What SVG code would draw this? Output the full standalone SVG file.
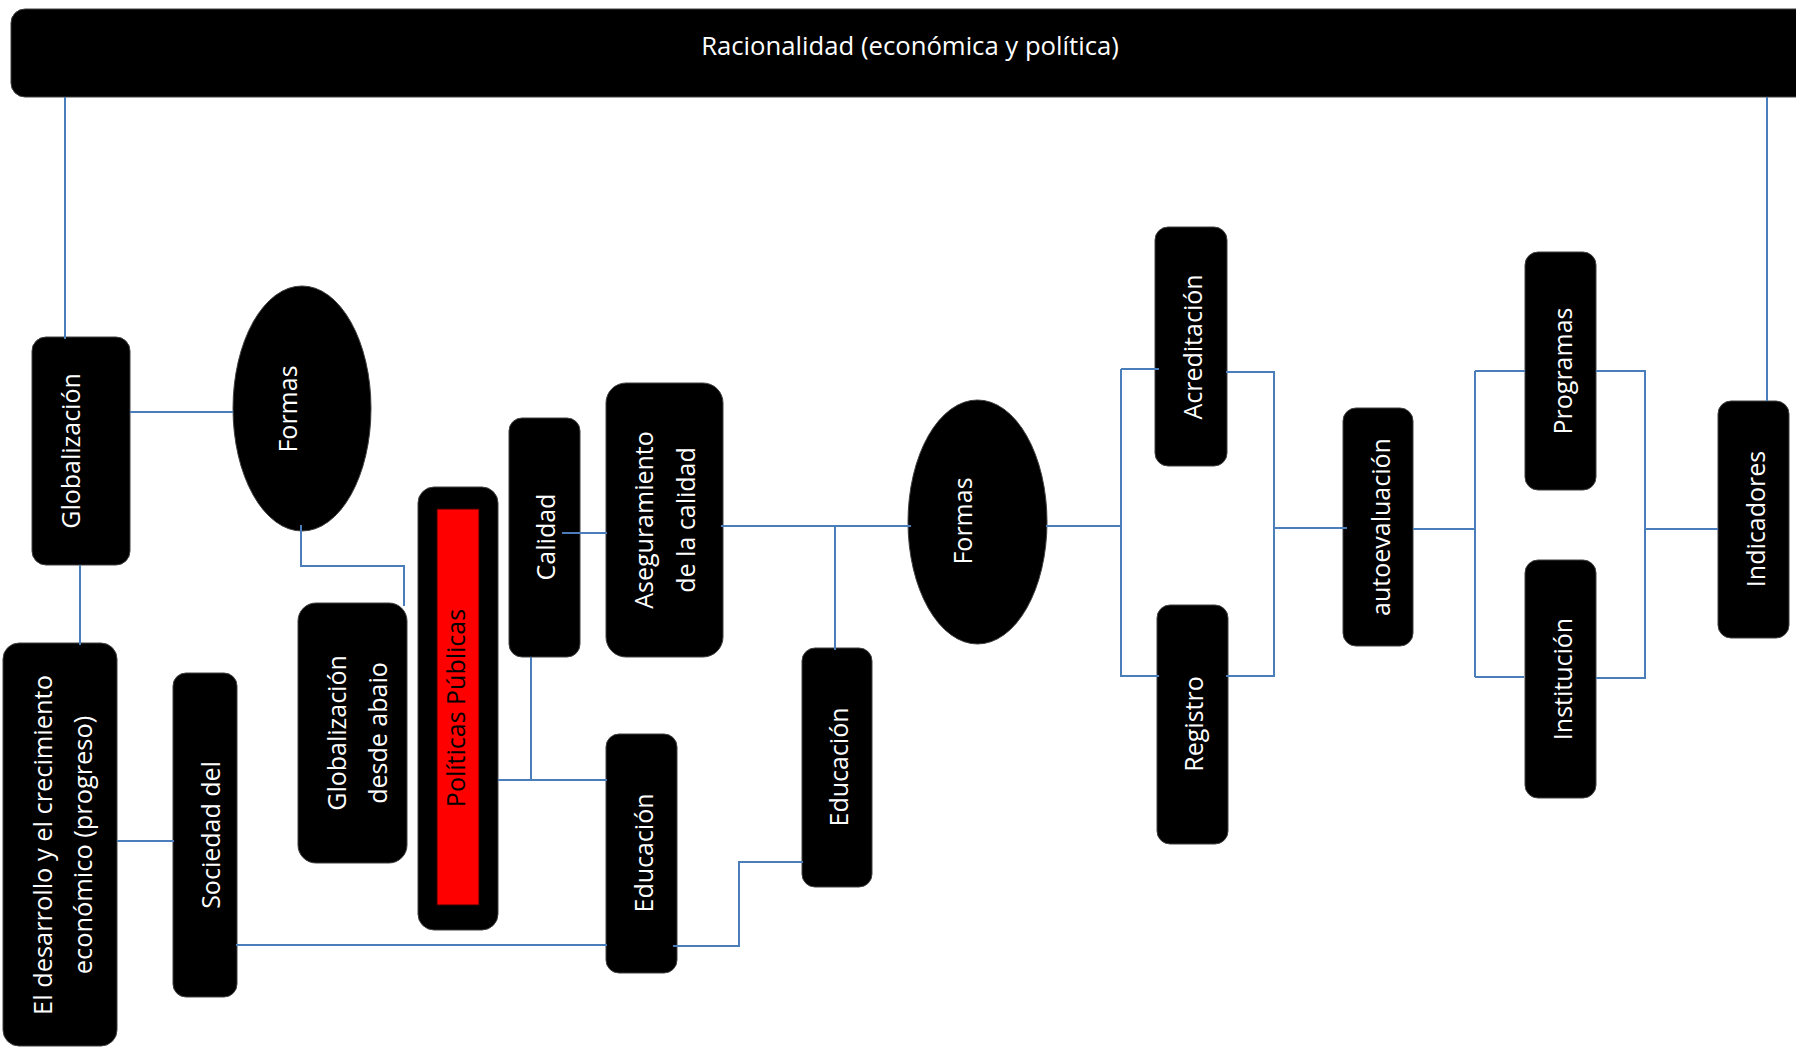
<svg xmlns="http://www.w3.org/2000/svg" width="1796" height="1047" viewBox="0 0 1796 1047">
<style>
  .box { fill: #000; stroke: #404040; stroke-width: 1; }
  .t { font-family: "Open Sans", "Liberation Sans", sans-serif; font-size: 25px; fill: #fff; text-anchor: middle; }
  .tb { font-family: "Open Sans", "Liberation Sans", sans-serif; font-size: 25px; fill: #000; text-anchor: middle; }
  .c { fill: none; stroke: #4A7EBB; stroke-width: 2; }
</style>
<rect width="1796" height="1047" fill="#fff"/>

<g id="racionalidad">
  <rect class="box" x="11" y="9" width="1800" height="88" rx="14"/>
  <text class="t" x="910" y="55" style="font-size:25.7px">Racionalidad (económica y política)</text>
</g>
<g id="globalizacion">
  <rect class="box" x="32" y="337" width="98" height="228" rx="14"/>
  <text class="t" transform="translate(80,451) rotate(-90)">Globalización</text>
</g>
<g id="formas1">
  <ellipse class="box" cx="302" cy="408.5" rx="69" ry="122.5"/>
  <text class="t" transform="translate(297,409) rotate(-90)">Formas</text>
</g>
<g id="desarrollo">
  <rect class="box" x="3" y="643" width="114" height="403" rx="16"/>
  <text class="t" transform="translate(52,845) rotate(-90)" style="font-size:25.4px">El desarrollo y el crecimiento</text>
  <text class="t" transform="translate(92,845) rotate(-90)" style="font-size:25.4px">económico (progreso)</text>
</g>
<g id="sociedad">
  <rect class="box" x="173" y="673" width="64" height="324" rx="13"/>
  <text class="t" transform="translate(220,835) rotate(-90)">Sociedad del</text>
</g>
<g id="glob-abajo">
  <rect class="box" x="298" y="603" width="109" height="260" rx="18"/>
  <text class="t" transform="translate(346,733) rotate(-90)">Globalización</text>
  <text class="t" transform="translate(387,733) rotate(-90)">desde abaio</text>
</g>
<g id="politicas">
  <rect class="box" x="418" y="487" width="80" height="443" rx="16"/>
  <rect x="437" y="509" width="42" height="396" fill="#FF0000" stroke="#3a0000" stroke-width="1"/>
  <text class="tb" transform="translate(465,708) rotate(-90)">Políticas Públicas</text>
</g>
<g id="calidad">
  <rect class="box" x="509" y="418" width="71" height="239" rx="13"/>
  <text class="t" transform="translate(555,537) rotate(-90)">Calidad</text>
</g>
<g id="aseguramiento">
  <rect class="box" x="606" y="383" width="117" height="274" rx="20"/>
  <text class="t" transform="translate(653,520) rotate(-90)">Aseguramiento</text>
  <text class="t" transform="translate(695,520) rotate(-90)">de la calidad</text>
</g>
<g id="educacion1">
  <rect class="box" x="606" y="734" width="71" height="239" rx="13"/>
  <text class="t" transform="translate(653,853) rotate(-90)">Educación</text>
</g>
<g id="educacion2">
  <rect class="box" x="802" y="648" width="70" height="239" rx="13"/>
  <text class="t" transform="translate(848,767) rotate(-90)">Educación</text>
</g>
<g id="formas2">
  <ellipse class="box" cx="977.5" cy="522" rx="69.5" ry="122"/>
  <text class="t" transform="translate(972,521) rotate(-90)">Formas</text>
</g>
<g id="acreditacion">
  <rect class="box" x="1155" y="227" width="72" height="239" rx="13"/>
  <text class="t" transform="translate(1202,347) rotate(-90)">Acreditación</text>
</g>
<g id="registro">
  <rect class="box" x="1157" y="605" width="71" height="239" rx="13"/>
  <text class="t" transform="translate(1203,724) rotate(-90)">Registro</text>
</g>
<g id="autoevaluacion">
  <rect class="box" x="1343" y="408" width="70" height="238" rx="13"/>
  <text class="t" transform="translate(1390,527) rotate(-90)">autoevaluación</text>
</g>
<g id="programas">
  <rect class="box" x="1525" y="252" width="71" height="238" rx="13"/>
  <text class="t" transform="translate(1572,371) rotate(-90)">Programas</text>
</g>
<g id="institucion">
  <rect class="box" x="1525" y="560" width="71" height="238" rx="13"/>
  <text class="t" transform="translate(1572,679) rotate(-90)">Institución</text>
</g>
<g id="indicadores">
  <rect class="box" x="1718" y="401" width="71" height="237" rx="13"/>
  <text class="t" transform="translate(1765,519) rotate(-90)">Indicadores</text>
</g>

<g id="connectors">
  <path class="c" d="M65,97 V339"/>
  <path class="c" d="M1767,97 V401"/>
  <path class="c" d="M130,412 H233"/>
  <path class="c" d="M301,525 V566 H404 V606"/>
  <path class="c" d="M80,565 V645"/>
  <path class="c" d="M117,841 H174"/>
  <path class="c" d="M236,945 H607"/>
  <path class="c" d="M562,533 H607"/>
  <path class="c" d="M531,657 V780"/>
  <path class="c" d="M498,780 H607"/>
  <path class="c" d="M673,946 H739 V862 H803"/>
  <path class="c" d="M721,526 H911"/>
  <path class="c" d="M835,526 V650"/>
  <path class="c" d="M1046,526 H1121"/>
  <path class="c" d="M1121,369 V676"/>
  <path class="c" d="M1121,369 H1159"/>
  <path class="c" d="M1120,676 H1159"/>
  <path class="c" d="M1226,372 H1274 V676 H1226"/>
  <path class="c" d="M1274,528 H1347"/>
  <path class="c" d="M1413,529 H1475"/>
  <path class="c" d="M1475,371 V677"/>
  <path class="c" d="M1475,371 H1525"/>
  <path class="c" d="M1475,677 H1524"/>
  <path class="c" d="M1596,371 H1645 V678 H1596"/>
  <path class="c" d="M1645,529 H1718"/>
</g>
</svg>
